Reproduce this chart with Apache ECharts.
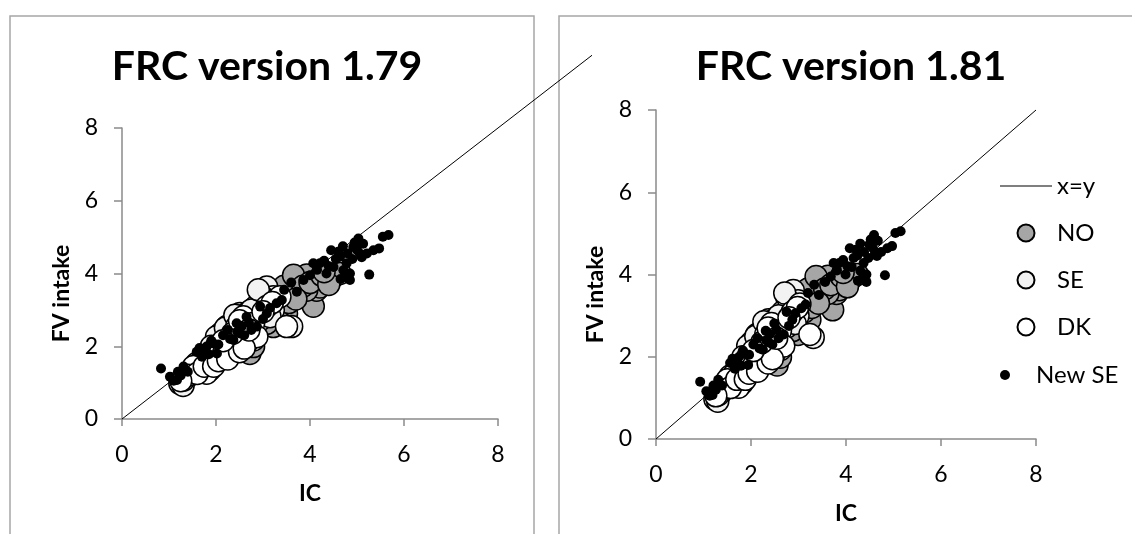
<!DOCTYPE html>
<html>
<head>
<meta charset="utf-8">
<script src="https://cdn.jsdelivr.net/npm/echarts@6/dist/echarts.min.js"></script>
<style>
html,body{margin:0;padding:0;background:#fff;}
#chart{width:1132px;height:534px;}
</style>
</head>
<body>
<div id="chart"></div>
<script>
// ---- titles / labels ----
const titles = ['FRC version 1.79', 'FRC version 1.81'];
const xName = 'IC';
const yName = 'FV intake';
const seriesNames = ['x=y', 'NO', 'SE', 'DK', 'New SE'];
const axisMin = 0, axisMax = 8, axisStep = 2;
const diagAxisMaxLeft = 10;

// ---- x=y reference line ----
const diagLeft = [[0, 0], [10, 10]];
const diagRight = [[0, 0], [8, 8]];

// ---- FRC version 1.79 (left) ----
const noLeft = [[4.07,3.10],[3.79,3.82],[4.35,3.82],[4.14,3.54],[4.50,3.91],[3.93,3.96],[3.50,2.90],[3.22,2.54],[3.57,3.45],[3.72,3.73],[4.21,3.63],[3.36,3.09],[3.08,2.63],[2.23,2.54],[2.37,2.45],[2.58,1.99],[2.72,1.80],[2.80,1.99],[2.80,2.26],[3.93,3.54],[4.64,4.00],
[2.45,2.65],[2.65,2.55],[2.90,2.80],[3.00,3.00],[3.30,3.30],[3.45,3.65],[3.65,3.95],[3.85,3.65],[4.00,3.75],[4.25,3.95],[4.40,3.70],[3.10,2.85],[2.35,2.20],[1.90,1.95],[2.10,2.35],[3.55,3.20],[4.30,4.05],[3.70,3.30]];
const seLeft = [[3.61,2.54],[3.08,3.63],[2.94,3.45],[3.22,3.00],[1.23,0.98],[1.45,1.21],[1.59,1.53],[1.87,1.35],[2.01,2.26],[2.23,1.99],[2.44,2.72],[2.51,2.90],[2.94,2.72],[3.15,2.81],[2.65,2.90],[1.66,1.44],[2.80,2.17],[3.22,3.36],
[1.35,1.10],[1.50,1.35],[1.70,1.60],[1.95,1.55],[2.10,1.75],[2.30,2.10],[2.60,2.40],[2.85,3.10],[3.00,3.35],[2.75,3.00],[1.90,2.00],[2.20,2.50],[2.40,2.85],[1.30,0.92],[2.90,3.55]];
const dkLeft = [[3.36,3.36],[2.01,1.99],[1.94,1.71],[2.44,2.54],[2.37,1.90],[2.65,2.08],[2.16,1.80],[1.31,1.07],[1.80,1.26],[2.58,2.81],[2.80,2.63],[3.08,3.09],[3.50,2.54],[1.52,1.44],[2.87,2.26],
[1.40,1.20],[1.60,1.25],[1.75,1.45],[1.95,1.45],[2.05,1.60],[2.25,1.65],[2.50,1.85],[2.60,1.95],[2.35,2.35],[2.50,2.70],[2.70,2.45],[3.20,3.20],[3.00,2.95],[1.25,1.05],[2.15,2.15]];
const newSeLeft = [[0.83,1.39],[1.02,1.16],[1.19,1.30],[1.31,1.44],[1.17,1.07],[1.59,1.85],[1.80,1.99],[1.94,2.08],[1.70,1.71],[2.02,1.80],[2.37,2.17],[2.44,2.63],[2.65,2.81],[2.51,2.35],[2.87,2.54],[2.94,3.09],[3.08,2.90],[3.29,3.18],[3.40,3.27],[3.72,3.50],[3.86,3.82],[4.21,4.28],[4.45,4.64],[4.50,4.18],[4.64,4.46],[4.78,4.28],[4.85,4.00],[4.92,4.73],[5.03,4.96],[5.13,4.82],[5.21,4.55],[5.26,3.97],[5.35,4.64],[5.47,4.69],[5.55,5.01],[5.67,5.06],[4.85,3.82],[4.35,4.00],[4.07,4.28],[5.06,4.55],[4.71,4.09],
[1.75,1.90],[1.85,1.78],[1.90,2.15],[2.05,2.05],[2.15,2.30],[2.25,2.45],[2.30,2.20],[2.45,2.40],[2.55,2.55],[2.60,2.30],[2.70,2.65],[2.75,2.45],[3.00,2.75],[3.15,3.05],[3.45,3.55],[3.60,3.75],[4.00,3.95],[4.15,4.10],[4.30,4.35],[4.40,4.20],[4.55,4.40],[4.60,4.60],[4.70,4.75],[4.80,4.55],[4.90,4.40],[4.95,4.85],[5.00,4.65],[5.10,4.45],[4.75,3.90],[4.65,3.85],[1.10,1.05],[1.25,1.20],[1.40,1.30],[1.65,1.95]];

// ---- FRC version 1.81 (right) ----
const noRight = [[3.72,3.14],[3.50,3.82],[3.99,3.82],[3.80,3.54],[4.12,3.91],[3.62,3.96],[3.24,2.90],[2.99,2.54],[3.30,3.45],[3.43,3.73],[3.86,3.63],[3.12,3.09],[2.87,2.63],[2.12,2.54],[2.25,2.45],[2.43,1.99],[2.55,1.80],[2.62,1.99],[2.62,2.26],[3.62,3.54],[4.24,4.00],
[2.32,2.65],[2.49,2.55],[2.71,2.80],[2.80,3.00],[3.06,3.30],[3.20,3.65],[3.37,3.95],[3.55,3.65],[3.68,3.75],[3.90,3.95],[4.03,3.70],[2.89,2.85],[2.23,2.20],[1.83,1.95],[2.01,2.35],[3.28,3.20],[3.94,4.05],[3.42,3.30]];
const seRight = [[3.31,2.47],[2.89,3.61],[2.75,3.45],[2.99,3.00],[1.24,0.97],[1.44,1.21],[1.56,1.53],[1.81,1.35],[1.93,2.26],[2.12,1.99],[2.31,2.72],[2.37,2.90],[2.75,2.72],[2.93,2.81],[2.49,2.90],[1.62,1.44],[2.62,2.17],[2.99,3.36],
[1.35,1.10],[1.48,1.35],[1.66,1.60],[1.88,1.55],[2.01,1.75],[2.18,2.10],[2.45,2.40],[2.67,3.10],[2.80,3.35],[2.58,3.00],[1.83,2.00],[2.10,2.50],[2.27,2.85],[1.30,0.92],[2.71,3.55]];
const dkRight = [[3.03,3.28],[1.93,1.99],[1.87,1.71],[2.31,2.54],[2.25,1.90],[2.49,2.08],[2.06,1.80],[1.31,1.07],[1.74,1.26],[2.43,2.81],[2.62,2.63],[2.87,3.09],[3.24,2.54],[1.50,1.44],[2.69,2.26],
[1.39,1.20],[1.57,1.25],[1.70,1.45],[1.88,1.45],[1.96,1.60],[2.14,1.65],[2.36,1.85],[2.45,1.95],[2.23,2.35],[2.36,2.70],[2.54,2.45],[2.98,3.20],[2.80,2.95],[1.26,1.05],[2.05,2.15]];
const newSeRight = [[0.93,1.39],[1.06,1.16],[1.21,1.30],[1.31,1.44],[1.19,1.07],[1.56,1.85],[1.74,1.99],[1.87,2.08],[1.66,1.71],[1.94,1.80],[2.25,2.17],[2.31,2.63],[2.49,2.81],[2.37,2.35],[2.69,2.54],[2.75,3.09],[2.87,2.90],[3.06,3.18],[3.15,3.27],[3.43,3.50],[3.56,3.82],[3.86,4.28],[4.08,4.64],[4.12,4.18],[4.24,4.46],[4.37,4.28],[4.43,4.00],[4.49,4.73],[4.59,4.96],[4.67,4.82],[4.74,4.55],[4.82,3.98],[4.87,4.64],[4.97,4.69],[5.04,5.01],[5.15,5.05],[4.43,3.82],[3.99,4.00],[3.74,4.28],[4.61,4.55],[4.30,4.09],
[1.70,1.90],[1.79,1.78],[1.83,2.15],[1.96,2.05],[2.05,2.30],[2.14,2.45],[2.18,2.20],[2.32,2.40],[2.40,2.55],[2.45,2.30],[2.54,2.65],[2.58,2.45],[2.80,2.75],[2.93,3.05],[3.20,3.55],[3.33,3.75],[3.68,3.95],[3.81,4.10],[3.94,4.35],[4.03,4.20],[4.16,4.40],[4.21,4.60],[4.30,4.75],[4.38,4.55],[4.47,4.40],[4.52,4.85],[4.56,4.65],[4.65,4.45],[4.34,3.90],[4.25,3.85],[1.13,1.05],[1.26,1.20],[1.39,1.30],[1.61,1.95]];

const FONT = 'Lato';
const axisGray = '#8a8a8a';

function xAxisCfg(gridIndex) {
  return {
    gridIndex, type: 'value', min: axisMin, max: axisMax, interval: axisStep,
    name: xName, nameLocation: 'middle', nameGap: 63,
    nameTextStyle: { fontFamily: FONT, fontSize: 23, fontWeight: 'bold', color: '#000' },
    axisLine: { show: true, onZero: false, lineStyle: { color: axisGray, width: 1.5 } },
    axisTick: { show: true, inside: false, length: 7, lineStyle: { color: axisGray, width: 1.5 } },
    axisLabel: { fontFamily: FONT, fontSize: 23, color: '#000', margin: 24 },
    splitLine: { show: false }
  };
}
function yAxisCfg(gridIndex) {
  return {
    gridIndex, type: 'value', min: axisMin, max: axisMax, interval: axisStep,
    name: yName, nameLocation: 'middle', nameGap: 49,
    nameTextStyle: { fontFamily: FONT, fontSize: 23, fontWeight: 'bold', color: '#000', padding: [0, 40, 0, 0] },
    axisLine: { show: true, onZero: false, lineStyle: { color: axisGray, width: 1.5 } },
    axisTick: { show: true, inside: false, length: 8, lineStyle: { color: axisGray, width: 1.5 } },
    axisLabel: { fontFamily: FONT, fontSize: 23, color: '#000', margin: 24 },
    splitLine: { show: false }
  };
}
function hiddenAxis(gridIndex, max) {
  return { gridIndex, type: 'value', min: 0, max, show: false, splitLine: { show: false } };
}

function bigScatter(name, data, idx, fill) {
  return {
    name, type: 'scatter', xAxisIndex: idx, yAxisIndex: idx, data,
    symbol: 'circle', symbolSize: 22,
    itemStyle: { color: fill, borderColor: '#000', borderWidth: 1.5, opacity: 1 },
    emphasis: { disabled: true }, z: 3
  };
}
function smallScatter(name, data, idx) {
  return {
    name, type: 'scatter', xAxisIndex: idx, yAxisIndex: idx, data,
    symbol: 'circle', symbolSize: 10,
    itemStyle: { color: '#000', borderColor: '#000', borderWidth: 0, opacity: 1 },
    emphasis: { disabled: true }, z: 4
  };
}
function diagLine(data, idx) {
  return {
    name: seriesNames[0], type: 'line', xAxisIndex: idx, yAxisIndex: idx, data,
    symbol: 'none', clip: false,
    lineStyle: { color: '#000', width: 1 }, itemStyle: { color: '#000' },
    emphasis: { disabled: true }, z: 2, silent: true
  };
}

// left plot: 122..498 (x 0..8), 419..128 (y 0..8)
const L = { left: 122, top: 128, width: 376, height: 291 };
const R = { left: 656, top: 110, width: 380, height: 329 };
const scale = diagAxisMaxLeft / axisMax;
const Ldiag = { left: L.left, top: L.top + L.height - L.height * scale, width: L.width * scale, height: L.height * scale };

const chart = echarts.init(document.getElementById('chart'), null, { renderer: 'canvas' });
chart.setOption({
  animation: false,
  backgroundColor: '#fff',
  grid: [L, R, Ldiag],
  xAxis: [xAxisCfg(0), xAxisCfg(1), hiddenAxis(2, diagAxisMaxLeft)],
  yAxis: [yAxisCfg(0), yAxisCfg(1), hiddenAxis(2, diagAxisMaxLeft)],
  legend: [
    {
      data: [
        { name: seriesNames[0], icon: 'path://M0,0H100V2H0Z' },
        seriesNames[1], seriesNames[2], seriesNames[3]
      ],
      orient: 'vertical', left: 1000, top: 174, padding: 0,
      itemWidth: 52, itemHeight: 17, itemGap: 23,
      textStyle: { fontFamily: FONT, fontSize: 24, color: '#000', lineHeight: 24 },
      selectedMode: false
    },
    {
      data: [seriesNames[4]], orient: 'vertical', left: 1000, top: 363, padding: 0,
      itemWidth: 52, itemHeight: 10,
      textStyle: { fontFamily: FONT, fontSize: 24, color: '#000', lineHeight: 24 },
      selectedMode: false
    }
  ],
  graphic: [
    { type: 'rect', shape: { x: 10, y: 16, width: 524, height: 600 }, style: { fill: 'none', stroke: '#a6a6a6', lineWidth: 1.5 }, z: 0, silent: true },
    { type: 'rect', shape: { x: 559, y: 16, width: 620, height: 600 }, style: { fill: 'none', stroke: '#a6a6a6', lineWidth: 1.5 }, z: 0, silent: true },
    { type: 'text', x: 267, y: 67, style: { text: titles[0], fontFamily: FONT, fontSize: 41, fontWeight: 'bold', fill: '#000', align: 'center', verticalAlign: 'middle' }, z: 5, silent: true },
    { type: 'text', x: 851, y: 67, style: { text: titles[1], fontFamily: FONT, fontSize: 41, fontWeight: 'bold', fill: '#000', align: 'center', verticalAlign: 'middle' }, z: 5, silent: true }
  ],
  series: [
    diagLine(diagLeft, 2),
    bigScatter(seriesNames[1], noLeft, 0, '#a6a6a6'),
    bigScatter(seriesNames[2], seLeft, 0, '#f2f2f2'),
    bigScatter(seriesNames[3], dkLeft, 0, '#ffffff'),
    smallScatter(seriesNames[4], newSeLeft, 0),
    diagLine(diagRight, 1),
    bigScatter(seriesNames[1], noRight, 1, '#a6a6a6'),
    bigScatter(seriesNames[2], seRight, 1, '#f2f2f2'),
    bigScatter(seriesNames[3], dkRight, 1, '#ffffff'),
    smallScatter(seriesNames[4], newSeRight, 1)
  ]
});
</script>
</body>
</html>
